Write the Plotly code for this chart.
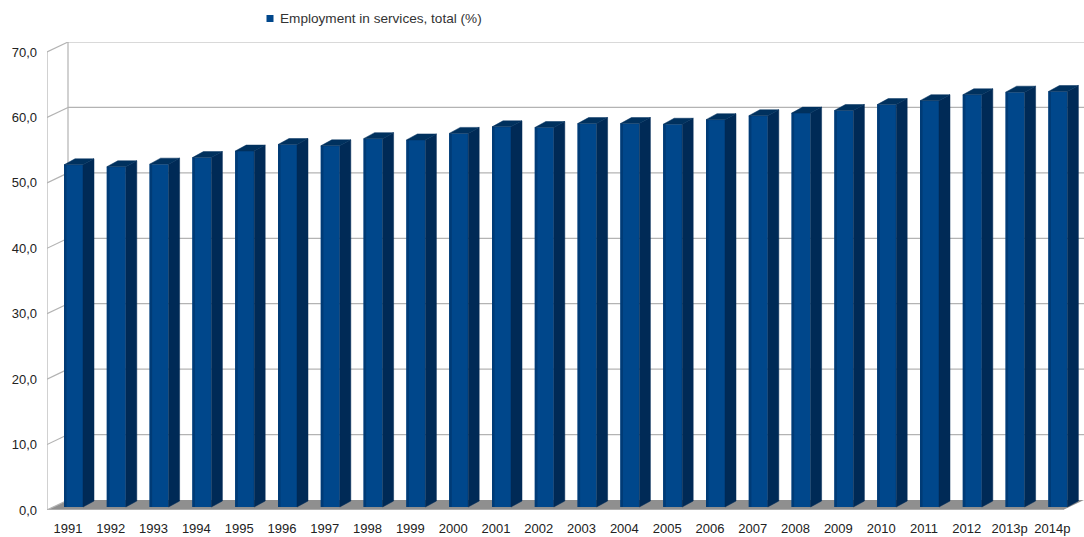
import plotly.graph_objects as go

# Share of total employment in services (%)
years = ["1991", "1992", "1993", "1994", "1995", "1996", "1997", "1998",
         "1999", "2000", "2001", "2002", "2003", "2004", "2005", "2006",
         "2007", "2008", "2009", "2010", "2011", "2012", "2013p", "2014p"]
services = [52.3, 52.0, 52.4, 53.4, 54.4, 55.4, 55.2, 56.3,
            56.1, 57.1, 58.1, 58.0, 58.6, 58.6, 58.5, 59.2,
            59.8, 60.2, 60.6, 61.5, 62.1, 63.0, 63.4, 63.5]
y_ticks = [0, 10, 20, 30, 40, 50, 60, 70]
series_name = "Employment in services, total (%)"

# ---- pseudo-3D geometry (in axis units) ----
W, H = 1084, 537
ML, MR, MT, MB = 47, 0, 42, 27
px_x = 42.8                       # pixels per category step
px_y = 458 / 70                   # pixels per percentage point
x_min = (47 - 73.5) / px_x
x_max = x_min + (W - ML - MR) / px_x
y_max = (H - MT - MB) / px_y

wall_dx = 21 / px_x               # depth offset of the back wall
wall_dy = 10 / px_y
bar_w = 19 / px_x                 # front face width
bar_dx = 11 / px_x                # depth of each bar
bar_dy = 6 / px_y
bar_base = 3 / px_y               # bars stand slightly back on the floor

FRONT = "#00478b"
EDGE = "#003b76"
SIDE = "#002a56"
TOP = "#00315e"
GRID = "#b3b3b3"
FLOOR = "#8f8f8f"

xs = list(range(len(years)))
fig = go.Figure()

# floor, walls and gridlines sit beneath the bars
fx_front_r = x_min + (1063 - 47) / px_x
floor_path = (f"M {x_min},0 L {fx_front_r},0 L {x_max},{wall_dy} "
              f"L {x_min + wall_dx},{wall_dy} Z")
fig.add_shape(type="path", path=floor_path, xref="x", yref="y",
              fillcolor=FLOOR, line=dict(width=0), layer="below")
fig.add_shape(type="line", xref="x", yref="y", x0=x_min, x1=fx_front_r,
              y0=0, y1=0, line=dict(color="#c8c8c8", width=1), layer="below")
for t in y_ticks:
    if t > 0:
        fig.add_shape(type="line", xref="x", yref="y",
                      x0=x_min + wall_dx, x1=x_max,
                      y0=t + wall_dy, y1=t + wall_dy,
                      line=dict(color=GRID, width=1.2), layer="below")
    fig.add_shape(type="line", xref="x", yref="y",
                  x0=x_min, x1=x_min + wall_dx, y0=t, y1=t + wall_dy,
                  line=dict(color=GRID, width=1.2), layer="below")
fig.add_shape(type="line", xref="x", yref="y", x0=x_min, x1=x_min,
              y0=0, y1=70, line=dict(color=GRID, width=1.2), layer="below")
fig.add_shape(type="line", xref="x", yref="y",
              x0=x_min + wall_dx, x1=x_min + wall_dx,
              y0=wall_dy, y1=70 + wall_dy,
              line=dict(color=GRID, width=1.2), layer="below")

# front faces
fig.add_trace(go.Bar(x=xs, y=services, base=bar_base, width=bar_w,
                     marker=dict(color=FRONT, line=dict(width=0)),
                     name=series_name, showlegend=False))
# darker left rim of the front faces
fig.add_trace(go.Bar(x=[i - bar_w / 2 + 0.03 for i in xs], y=services,
                     base=bar_base, width=0.06,
                     marker=dict(color=EDGE, line=dict(width=0)),
                     hoverinfo="skip", showlegend=False))

# side faces and top faces of the bars
sx, sy, tx, ty = [], [], [], []
for i, v in zip(xs, services):
    xl, xr = i - bar_w / 2, i + bar_w / 2
    top = bar_base + v
    sx += [xr, xr + bar_dx, xr + bar_dx, xr, xr, None]
    sy += [bar_base, bar_base + bar_dy, top + bar_dy, top, bar_base, None]
    tx += [xl, xr, xr + bar_dx, xl + bar_dx, xl, None]
    ty += [top, top, top + bar_dy, top + bar_dy, top, None]
fig.add_trace(go.Scatter(x=sx, y=sy, fill="toself", fillcolor=SIDE,
                         mode="lines", line=dict(color=SIDE, width=0.5),
                         hoverinfo="skip", showlegend=False))
fig.add_trace(go.Scatter(x=tx, y=ty, fill="toself", fillcolor=TOP,
                         mode="lines", line=dict(color=TOP, width=0.5),
                         hoverinfo="skip", showlegend=False))

# legend entry
def px2paper_x(p):
    return (p - ML) / (W - ML - MR)

def px2paper_y(p):
    return (H - MB - p) / (H - MT - MB)

fig.add_shape(type="rect", xref="paper", yref="paper",
              x0=px2paper_x(266.5), x1=px2paper_x(273.5),
              y0=px2paper_y(22), y1=px2paper_y(15),
              fillcolor=FRONT, line=dict(width=0))
fig.add_annotation(xref="paper", yref="paper",
                   x=px2paper_x(278), y=px2paper_y(19),
                   xanchor="left", yanchor="middle", showarrow=False,
                   text=series_name,
                   font=dict(family="Liberation Sans", size=13.6, color="#333333"))

fig.update_layout(
    width=W, height=H,
    margin=dict(l=ML, r=MR, t=MT, b=MB, pad=0),
    paper_bgcolor="white", plot_bgcolor="white",
    separators=",.",
    barmode="overlay",
    showlegend=False,
    font=dict(family="Liberation Sans", size=13, color="#333333"),
    xaxis=dict(range=[x_min, x_max], showgrid=False, zeroline=False,
               showline=False, ticks="",
               tickmode="array", tickvals=[i - 0.13 for i in xs],
               ticktext=years, ticklabelstandoff=9,
               tickfont=dict(size=13, color="#222222"), fixedrange=True),
    yaxis=dict(range=[0, y_max], showgrid=False, zeroline=False,
               showline=False, ticks="",
               tickmode="array", tickvals=y_ticks, tickformat=".1f",
               ticklabelstandoff=9,
               tickfont=dict(size=13, color="#222222"), fixedrange=True),
)

fig.write_html("out.html")
